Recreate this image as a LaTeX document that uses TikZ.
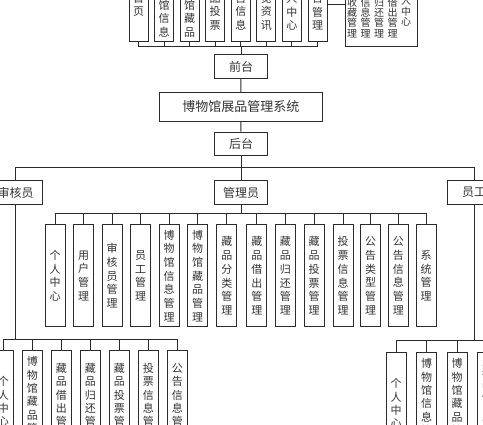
\documentclass[tikz,border=0pt]{standalone}
\usepackage{fontspec}
\setmainfont{Noto Sans CJK SC}
\definecolor{linec}{HTML}{2B2B2B}
\definecolor{textc}{HTML}{333333}
\begin{document}
\begin{tikzpicture}[x=1pt,y=-1pt,
  ln/.style={draw=linec,line width=1pt},
  hbox/.style={ln,inner sep=0pt,minimum height=23.4pt,minimum width=53pt,font=\fontsize{12}{14}\selectfont,text=textc},
  tbox/.style={ln,inner sep=0pt,align=center,minimum width=19pt,minimum height=73.4pt,font=\fontsize{11}{13.5}\selectfont,text=textc},
  vbox/.style={ln,inner sep=0pt,align=center,minimum width=20pt,minimum height=101.7pt,font=\fontsize{11}{13.7}\selectfont,text=textc},
  sbox/.style={vbox,font=\fontsize{11}{13.3}\selectfont},
  col/.style={inner sep=0pt,align=center,anchor=south,font=\fontsize{10}{10.2}\selectfont,text=textc},
]
\useasboundingbox (0,0) rectangle (483,425);
\clip (0,0) rectangle (483,425);
\fill[white] (0,0) rectangle (483,425);

% ---------- front-end row ----------
\node[tbox] (t1) at (138.5,5) {首\\页};
\node[tbox] (t2) at (164.1,5) {博\\物\\馆\\信\\息};
\node[tbox] (t3) at (189.6,5) {博\\物\\馆\\藏\\品};
\node[tbox] (t4) at (215.2,5) {藏\\品\\投\\票};
\node[tbox] (t5) at (240.8,5) {公\\告\\信\\息};
\node[tbox] (t6) at (266.4,5) {展\\览\\资\\讯};
\node[tbox] (t7) at (291.9,5) {个\\人\\中\\心};
\node[tbox] (t8) at (317.5,5) {后\\台\\管\\理};
\node[ln,inner sep=0pt,minimum width=72.3pt,minimum height=84pt] (big) at (381.2,5) {};
\node[col] (c1) at (352,37.8) {我\\的\\收\\藏\\管\\理};
\node[col] (c2) at (365.5,37.8) {投\\票\\信\\息\\管\\理};
\node[col] (c3) at (379,37.8) {藏\\品\\归\\还\\管\\理};
\node[col] (c4) at (392.5,37.8) {藏\\品\\借\\出\\管\\理};
\node[col] (c5) at (406,26.2) {个\\人\\中\\心};
\draw[ln] (t8.east) -- (big.west);

% ---------- main column ----------
\node[hbox] (qt) at (241,66.7) {前台};
\node[hbox,minimum width=163pt,minimum height=29.4pt,font=\fontsize{13}{15}\selectfont] (sys) at (240.8,107) {博物馆展品管理系统};
\node[hbox] (ht) at (241,143.8) {后台};
\coordinate (topbus) at (241,47);
\foreach \i in {1,...,8} \draw[ln] (t\i.south) |- (topbus);
\draw[ln] (topbus) -- (qt.north);
\draw[ln] (qt.south) -- (sys.north);
\draw[ln] (sys.south) -- (ht.north);

% ---------- roles ----------
\node[hbox] (sh) at (15.7,192.5) {审核员};
\node[hbox] (gl) at (241,192.6) {管理员};
\node[hbox] (yg) at (474,192.5) {员工};
\coordinate (rolebus) at (241,167.3);
\draw[ln] (ht.south) -- (rolebus);
\draw[ln] (sh.north) |- (rolebus);
\draw[ln] (gl.north) -- (rolebus);
\draw[ln] (yg.north) |- (rolebus);

% ---------- admin modules ----------
\node[vbox] (a1) at (55.0,275.8) {个\\人\\中\\心};
\node[vbox] (a2) at (83.5,275.8) {用\\户\\管\\理};
\node[vbox] (a3) at (112.1,275.8) {审\\核\\员\\管\\理};
\node[vbox] (a4) at (140.6,275.8) {员\\工\\管\\理};
\node[vbox] (a5) at (169.2,275.8) {博\\物\\馆\\信\\息\\管\\理};
\node[vbox] (a6) at (197.7,275.8) {博\\物\\馆\\藏\\品\\管\\理};
\node[vbox] (a7) at (226.8,275.8) {藏\\品\\分\\类\\管\\理};
\node[vbox] (a8) at (256.8,275.8) {藏\\品\\借\\出\\管\\理};
\node[vbox] (a9) at (285.3,275.8) {藏\\品\\归\\还\\管\\理};
\node[vbox] (a10) at (314.2,275.8) {藏\\品\\投\\票\\管\\理};
\node[vbox] (a11) at (343.2,275.8) {投\\票\\信\\息\\管\\理};
\node[vbox] (a12) at (370.7,275.8) {公\\告\\类\\型\\管\\理};
\node[vbox] (a13) at (398.3,275.8) {公\\告\\信\\息\\管\\理};
\node[vbox] (a14) at (426.0,275.8) {系\\统\\管\\理};
\coordinate (glbus) at (241,213.3);
\draw[ln] (gl.south) -- (glbus);
\foreach \i in {1,...,14} \draw[ln] (a\i.north) |- (glbus);

% ---------- reviewer modules ----------
\node[sbox] (s1) at (3.3,401.5) {个\\人\\中\\心};
\node[sbox] (s2) at (32.3,401.5) {博\\物\\馆\\藏\\品\\管\\理};
\node[sbox] (s3) at (61.3,401.5) {藏\\品\\借\\出\\管\\理};
\node[sbox] (s4) at (90.3,401.5) {藏\\品\\归\\还\\管\\理};
\node[sbox] (s5) at (119.3,401.5) {藏\\品\\投\\票\\管\\理};
\node[sbox] (s6) at (148.3,401.5) {投\\票\\信\\息\\管\\理};
\node[sbox] (s7) at (177.3,401.5) {公\\告\\信\\息\\管\\理};
\coordinate (shbus) at (15.7,339.5);
\draw[ln] (sh.south) -- (shbus);
\foreach \i in {1,...,7} \draw[ln] (s\i.north) |- (shbus);

% ---------- staff modules ----------
\node[sbox] (e1) at (396,403.5) {个\\人\\中\\心};
\node[sbox] (e2) at (426.5,403.5) {博\\物\\馆\\信\\息\\管\\理};
\node[sbox] (e3) at (457,403.5) {博\\物\\馆\\藏\\品\\管\\理};
\node[sbox] (e4) at (487.5,403.5) {藏\\品\\借\\出\\管\\理};
\coordinate (ygbus) at (474,341);
\draw[ln] (yg.south) -- (ygbus);
\foreach \i in {1,...,4} \draw[ln] (e\i.north) |- (ygbus);
\end{tikzpicture}
\end{document}
